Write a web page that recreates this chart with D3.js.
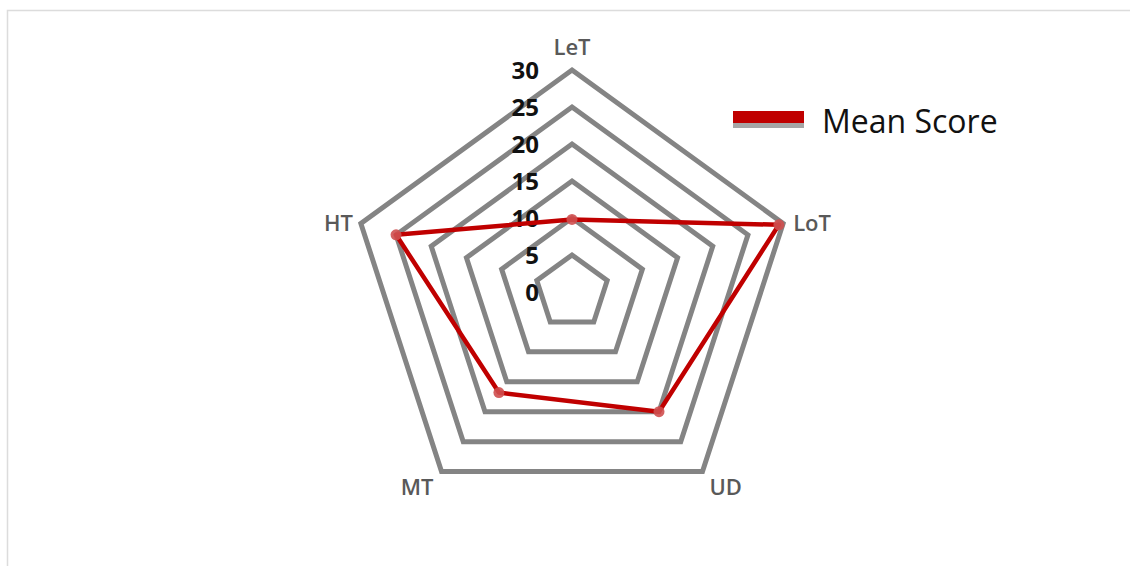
<!DOCTYPE html>
<html>
<head>
<meta charset="utf-8">
<script src="https://cdn.jsdelivr.net/npm/d3@7/dist/d3.min.js"></script>
<style>
  html, body { margin: 0; padding: 0; background: #fff; }
  svg { display: block; }
</style>
</head>
<body>
<svg id="chart" width="1130" height="566"></svg>
<script>
// Radar chart: mean score per category
const categories = ["LeT", "LoT", "UD", "MT", "HT"];
const meanScore = [9.8, 29.4, 20, 16.8, 25];
const tickValues = [0, 5, 10, 15, 20, 25, 30];
const seriesName = "Mean Score";

const W = 1130, H = 566;
const cx = 572, cy = 292, R = 222;

const svg = d3.select("#chart");

// light chart-area frame
svg.append("path")
  .attr("d", `M7.5,${H} L7.5,10.5 L${W},10.5`)
  .attr("fill", "none")
  .attr("stroke", "#dcdcdc")
  .attr("stroke-width", 1.5);

const r = d3.scaleLinear().domain([0, 30]).range([0, R]);
const angle = d3.scalePoint()
  .domain(categories)
  .range([0, 2 * Math.PI * (categories.length - 1) / categories.length]);

const pt = (cat, v) => {
  const a = angle(cat);
  return [cx + r(v) * Math.sin(a), cy - r(v) * Math.cos(a)];
};

const g = svg.append("g");

// grid rings
const radial = d3.lineRadial()
  .angle(d => angle(d.cat))
  .radius(d => r(d.v))
  .curve(d3.curveLinearClosed);

tickValues.filter(t => t > 0).forEach(t => {
  g.append("path")
    .attr("transform", `translate(${cx},${cy})`)
    .attr("d", radial(categories.map(c => ({ cat: c, v: t }))))
    .attr("fill", "none")
    .attr("stroke", "#848484")
    .attr("stroke-width", 5)
    .attr("stroke-linejoin", "miter");
});

// value axis labels
g.selectAll("text.tick")
  .data(tickValues)
  .join("text")
  .attr("class", "tick")
  .attr("x", 539)
  .attr("y", d => cy - r(d))
  .attr("dy", "0.36em")
  .attr("text-anchor", "end")
  .attr("font-family", "'Open Sans', sans-serif")
  .attr("font-weight", "bold")
  .attr("font-size", 24)
  .attr("fill", "#111")
  .text(d => d);

// data series
g.append("path")
  .attr("transform", `translate(${cx},${cy})`)
  .attr("d", radial(categories.map((c, i) => ({ cat: c, v: meanScore[i] }))))
  .attr("fill", "none")
  .attr("stroke", "#c00000")
  .attr("stroke-width", 4.5)
  .attr("stroke-linejoin", "round");

g.selectAll("circle.mark")
  .data(categories)
  .join("circle")
  .attr("class", "mark")
  .attr("cx", (c, i) => pt(c, meanScore[i])[0])
  .attr("cy", (c, i) => pt(c, meanScore[i])[1])
  .attr("r", 5.5)
  .attr("fill", "#cf4f4f")
  .attr("opacity", 0.9);

// category labels around the outer ring
const labelPos = {
  LeT: { dx: 0, dy: -23, anchor: "middle" },
  LoT: { dx: 10, dy: 0, anchor: "start" },
  UD: { dx: 7, dy: 8, anchor: "start" },
  MT: { dx: -8, dy: 8, anchor: "end" },
  HT: { dx: -8, dy: 0, anchor: "end" }
};
g.selectAll("text.cat")
  .data(categories)
  .join("text")
  .attr("class", "cat")
  .attr("x", c => pt(c, 30)[0] + labelPos[c].dx)
  .attr("y", c => pt(c, 30)[1] + labelPos[c].dy)
  .attr("dy", c => (c === "UD" || c === "MT") ? "0.72em" : "0.36em")
  .attr("text-anchor", c => labelPos[c].anchor)
  .attr("font-family", "'Open Sans', sans-serif")
  .attr("font-weight", "600")
  .attr("font-size", 22)
  .attr("fill", "#595959")
  .text(c => c);

// legend
const lg = svg.append("g").attr("transform", "translate(733,111)");
lg.append("rect").attr("x", 0).attr("y", 12).attr("width", 71).attr("height", 5).attr("fill", "#a6a6a6");
lg.append("rect").attr("x", 0).attr("y", 0).attr("width", 71).attr("height", 12).attr("fill", "#c00000");
lg.append("text")
  .attr("x", 89)
  .attr("y", 22)
  .attr("font-family", "'Open Sans', sans-serif")
  .attr("font-size", 32)
  .attr("fill", "#111")
  .text(seriesName);
</script>
</body>
</html>
